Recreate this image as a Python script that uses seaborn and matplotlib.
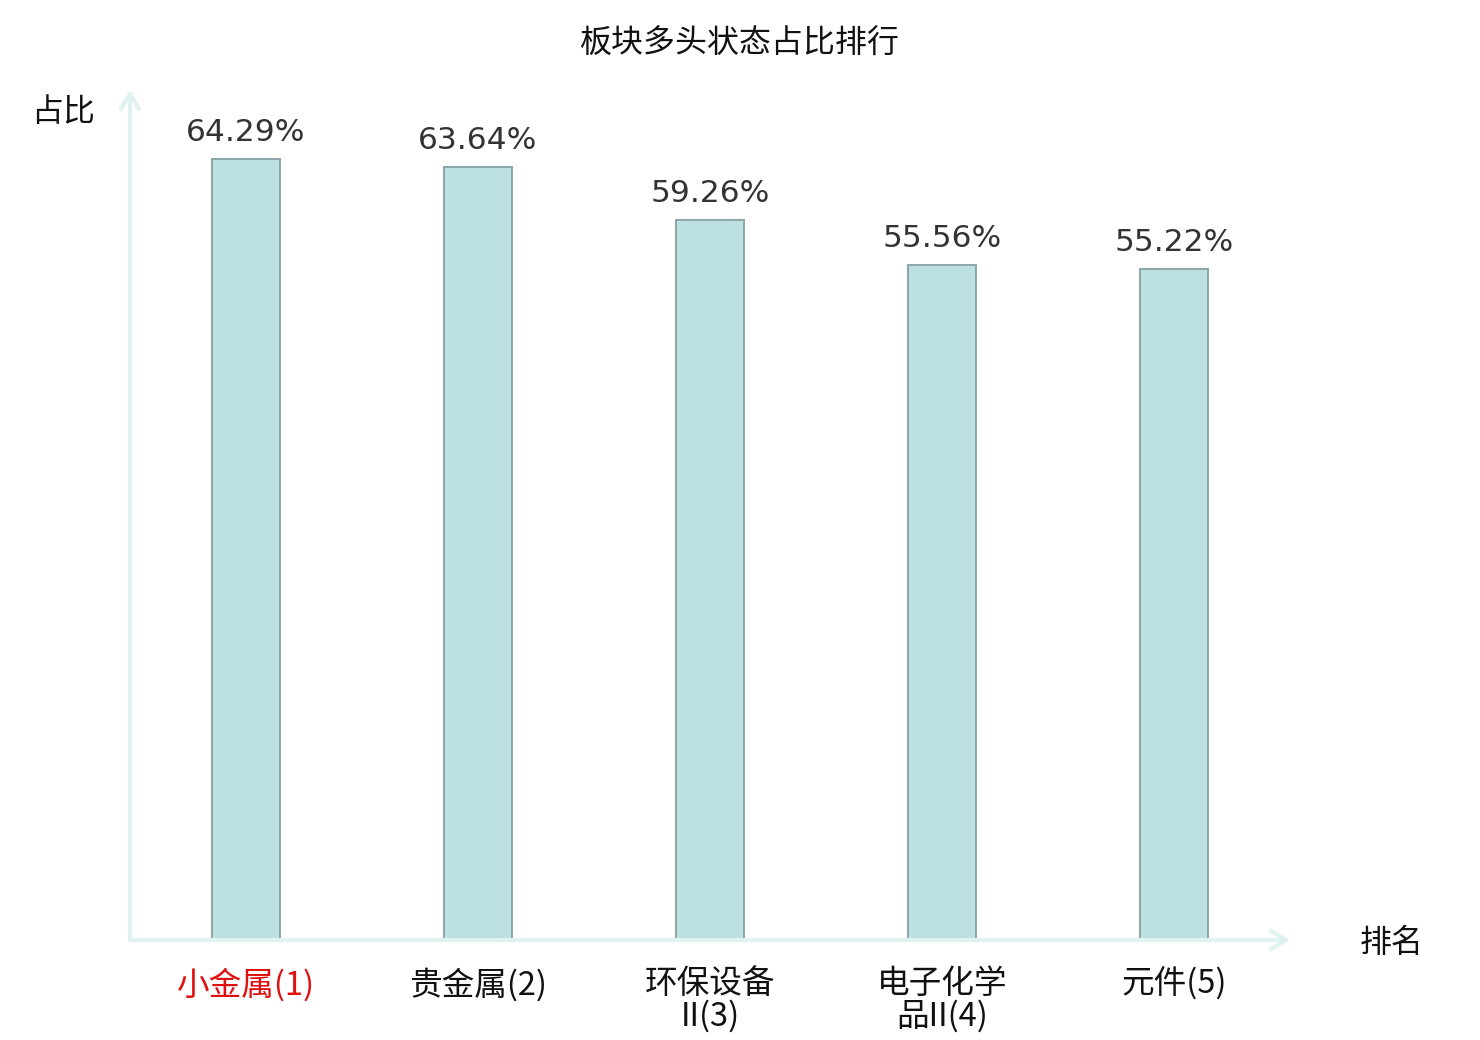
import matplotlib
matplotlib.use("Agg")
import matplotlib.pyplot as plt
import seaborn as sns
import pandas as pd

categories = ["小金属(1)", "贵金属(2)", "环保设备\nII(3)", "电子化学\n品II(4)", "元件(5)"]
values = [64.29, 63.64, 59.26, 55.56, 55.22]
value_labels = ["64.29%", "63.64%", "59.26%", "55.56%", "55.22%"]
label_colors = ["#e01010", "#111111", "#111111", "#111111", "#111111"]
title = "板块多头状态占比排行"
y_name = "占比"
x_name = "排名"

sns.set_theme(style="white")
plt.rcParams['font.family'] = ['Noto Sans CJK SC', 'DejaVu Sans']

df = pd.DataFrame({"cat": categories, "val": values})

fig = plt.figure(figsize=(14.8, 10.4), dpi=100)
ax = fig.add_axes([130/1480, 100/1040, 1160/1480, 850/1040])

sns.barplot(data=df, x="cat", y="val", ax=ax, width=0.295,
            color="#bce0e2", saturation=1, edgecolor="#8aa6a6", linewidth=1.4)
for p in ax.patches:
    p.set_facecolor("#bce0e2")

ax.set_xlim(-0.5, 4.5)
ax.set_ylim(0, 70)
for s in ax.spines.values():
    s.set_visible(False)
ax.set_yticks([])
ax.set_xlabel("")
ax.set_ylabel("")
ax.tick_params(axis='x', length=0, pad=20, labelsize=23.5)
for lbl, c in zip(ax.get_xticklabels(), label_colors):
    lbl.set_color(c)
    lbl.set_linespacing(1.0)
    lbl.set_verticalalignment('top')

ax.bar_label(ax.containers[0], labels=value_labels, padding=9,
             fontsize=22.5, color="#333333", family="DejaVu Sans")

axis_color = "#dff2ef"
ax.annotate('', xy=(0, 1), xytext=(0, 0), xycoords='axes fraction',
            arrowprops=dict(arrowstyle='->,head_length=0.9,head_width=0.55',
                            color=axis_color, lw=3, shrinkA=0, shrinkB=0),
            annotation_clip=False)
ax.annotate('', xy=(1, 0), xytext=(0, 0), xycoords='axes fraction',
            arrowprops=dict(arrowstyle='->,head_length=0.9,head_width=0.55',
                            color=axis_color, lw=3, shrinkA=0, shrinkB=0),
            annotation_clip=False)

fig.text(740/1480, 1 - 44/1040, title, ha='center', va='center', fontsize=23, color="#111111")
fig.text(63/1480, 1 - 112/1040, y_name, ha='center', va='center', fontsize=23, color="#111111")
fig.text(1392/1480, 1 - 943/1040, x_name, ha='center', va='center', fontsize=23, color="#111111")

fig.savefig("out.png", dpi=100)
